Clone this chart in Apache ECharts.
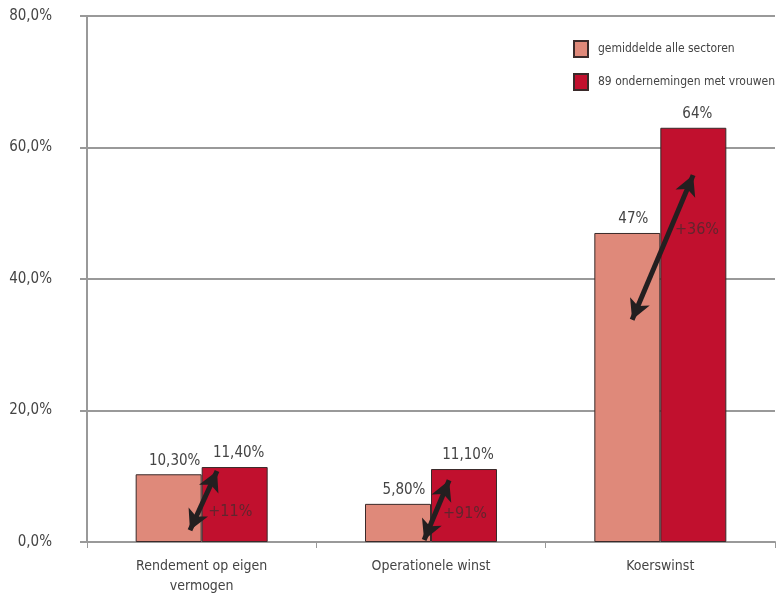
<!DOCTYPE html>
<html><head><meta charset="utf-8">
<script src="https://cdn.jsdelivr.net/npm/echarts@6/dist/echarts.min.js"></script>
<style>html,body{margin:0;padding:0;background:#fff}#c{width:779px;height:598px}</style>
</head><body><div id="c"></div>
<script>
const categories = ['Rendement op eigen\nvermogen', 'Operationele winst', 'Koerswinst'];
const seriesNames = ['gemiddelde alle sectoren', '89 ondernemingen met vrouwen'];
const avgValues = [10.3, 5.8, 47];
const womenValues = [11.4, 11.1, 63];
const avgLabels = ['10,30%', '5,80%', '47%'];
const womenLabels = ['11,40%', '11,10%', '64%'];
const yTicks = ['0,0%', '20,0%', '40,0%', '60,0%', '80,0%'];
const diffTexts = [[0.625, 4.6, '+11%'], [1.648, 4.3, '+91%'], [2.66, 47.5, '+36%']];
const arrows = [
  [[0.449, 1.8], [0.567, 10.8]],
  [[1.470, 0.3], [1.579, 9.4]],
  [[2.377, 33.8], [2.643, 55.8]]
];

const FONT = '"DejaVu Sans Condensed", "Liberation Sans Narrow", sans-serif';
const chart = echarts.init(document.getElementById('c'));
chart.setOption({
  animation: false,
  textStyle: { fontFamily: FONT },
  grid: { left: 87, right: 4, top: 16, bottom: 56 },
  legend: {
    orient: 'vertical', left: 568, top: 35, icon: 'rect',
    itemWidth: 14, itemHeight: 16, itemGap: 15,
    data: seriesNames,
    textStyle: { fontFamily: FONT, fontSize: 12, color: '#444', padding: [0, 0, 0, 5] }
  },
  xAxis: [{
    type: 'category', data: categories,
    axisLine: { lineStyle: { color: '#999', width: 2 } },
    axisTick: { show: true, length: 6, lineStyle: { color: '#999' } },
    axisLabel: { fontFamily: FONT, fontSize: 14, color: '#444', margin: 14, lineHeight: 20 }
  }, {
    type: 'value', min: 0, max: 3, show: false
  }],
  yAxis: {
    type: 'value', min: 0, max: 80, interval: 20,
    axisLine: { show: true, lineStyle: { color: '#999', width: 2 } },
    axisTick: { show: true, length: 7, lineStyle: { color: '#999', width: 2 } },
    splitLine: { lineStyle: { color: '#999', width: 2 } },
    axisLabel: {
      fontFamily: FONT, fontSize: 15, color: '#444', margin: 35,
      formatter: (v) => yTicks[Math.round(v / 20)]
    }
  },
  series: [{
    name: seriesNames[0], type: 'bar', data: avgValues,
    barWidth: 66, barGap: '0%',
    itemStyle: { color: '#DF897A', borderColor: '#3a2a2a', borderWidth: 1 },
    label: { show: true, position: 'top', distance: 6, fontFamily: FONT, fontSize: 15, color: '#444',
      offset: [6, 0], formatter: (p) => avgLabels[p.dataIndex] }
  }, {
    name: seriesNames[1], type: 'bar', data: womenValues,
    barWidth: 66, barGap: '0%',
    itemStyle: { color: '#C1102E', borderColor: '#3a2a2a', borderWidth: 1 },
    label: { show: true, position: 'top', distance: 6, fontFamily: FONT, fontSize: 15, color: '#444',
      offset: [4, 0], formatter: (p) => womenLabels[p.dataIndex] }
  }, {
    type: 'scatter', xAxisIndex: 1, symbolSize: 0, z: 5,
    data: diffTexts,
    label: { show: true, position: 'inside', fontFamily: FONT, fontSize: 16, color: '#4a2a2e',
      formatter: (p) => p.data[2] },
    markLine: {
      silent: true, symbol: ['arrow', 'arrow'], symbolSize: [16, 20],
      lineStyle: { color: '#231F20', width: 5, type: 'solid' },
      label: { show: false },
      data: arrows.map(a => [{ coord: a[0] }, { coord: a[1] }])
    }
  }]
});
</script></body></html>
